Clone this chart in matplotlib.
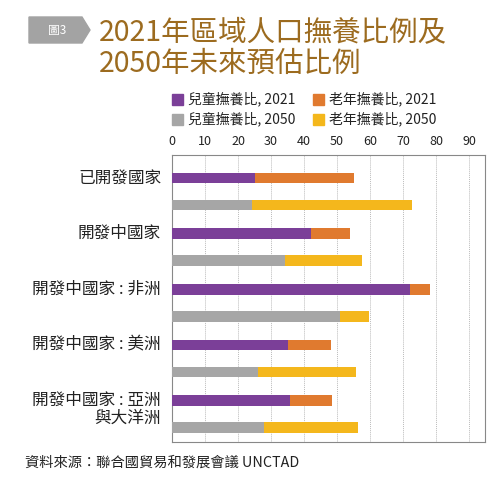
import matplotlib.pyplot as plt
from matplotlib.patches import Polygon, Rectangle

plt.rcParams['font.family'] = ['Noto Sans CJK TC', 'DejaVu Sans']

# data
regions = ["已開發國家", "開發中國家", "開發中國家 : 非洲", "開發中國家 : 美洲", "開發中國家 : 亞洲"]
region_extra = ["", "", "", "", "與大洋洲"]
child_2021 = [25.0, 42.2, 72.1, 35.1, 35.6]
old_2021 = [30.1, 11.7, 6.1, 13.1, 12.8]
child_2050 = [24.3, 34.1, 50.8, 26.1, 27.8]
old_2050 = [48.5, 23.3, 8.8, 29.7, 28.6]
series_labels = ["兒童撫養比, 2021", "老年撫養比, 2021", "兒童撫養比, 2050", "老年撫養比, 2050"]
colors = ["#7B3F98", "#E07A2F", "#A6A6A6", "#F4B71C"]
xticks = [0, 10, 20, 30, 40, 50, 60, 70, 80, 90]

fig = plt.figure(figsize=(4.99, 4.86), dpi=100)
W, H = 499, 486

ax = fig.add_axes([172 / W, 1 - 442 / H, 313 / W, 287 / H])

gap = 2.055
bh = 0.39
y21 = [i * gap for i in range(len(regions))]
y50 = [y + 1 for y in y21]

ax.barh(y21, child_2021, height=bh, color=colors[0], zorder=3)
ax.barh(y21, old_2021, left=child_2021, height=bh, color=colors[1], zorder=3)
ax.barh(y50, child_2050, height=bh, color=colors[2], zorder=3)
ax.barh(y50, old_2050, left=child_2050, height=bh, color=colors[3], zorder=3)

ax.set_xlim(0, 94.8)
ax.set_ylim(y50[-1] + 0.53, -0.85)
ax.set_xticks(xticks)
ax.xaxis.tick_top()
ax.tick_params(axis='x', length=0, pad=5, labelsize=9, colors='#222222')
ax.set_yticks([])
ax.grid(axis='x', color='#BBBBBB', linestyle=(0, (1, 1)), linewidth=0.7, zorder=0)
for s in ax.spines.values():
    s.set_color('#888888')
    s.set_linewidth(0.8)

for i, name in enumerate(regions):
    ax.text(-0.035, y21[i], name, transform=ax.get_yaxis_transform(),
            ha='right', va='center', fontsize=12, color='#222222')
    if region_extra[i]:
        ax.text(-0.035, y21[i] + 0.67, region_extra[i], transform=ax.get_yaxis_transform(),
                ha='right', va='center', fontsize=12, color='#222222')

# legend
leg_pos = [(172, 99), (313, 99), (172, 119), (313, 119)]
for (lx, ly), lab, c in zip(leg_pos, series_labels, colors):
    fig.patches.append(Rectangle((lx / W, 1 - (ly + 6) / H), 11 / W, 11 / H,
                                 transform=fig.transFigure, color=c))
    fig.text((lx + 16) / W, 1 - ly / H, lab, fontsize=10, va='center', ha='left', color='#222222')

# badge
badge = [(29, 17), (82, 17), (90, 30), (82, 43), (29, 43)]
fig.patches.append(Polygon([(x / W, 1 - y / H) for x, y in badge], closed=True,
                           transform=fig.transFigure, color='#A3A3A3'))
fig.text(57 / W, 1 - 30 / H, "圖3", fontsize=8.5, color='white', ha='center', va='center')

# title
title_c = '#9C6B1F'
fig.text(99 / W, 1 - 33 / H, "2021年區域人口撫養比例及", fontsize=20.5, color=title_c,
         ha='left', va='center', fontweight='medium')
fig.text(99 / W, 1 - 64 / H, "2050年未來預估比例", fontsize=20.5, color=title_c,
         ha='left', va='center', fontweight='medium')

fig.text(25 / W, 1 - 463 / H, "資料來源：聯合國貿易和發展會議 UNCTAD", fontsize=10.3,
         color='#222222', ha='left', va='center')

fig.savefig("out.png", dpi=100)
